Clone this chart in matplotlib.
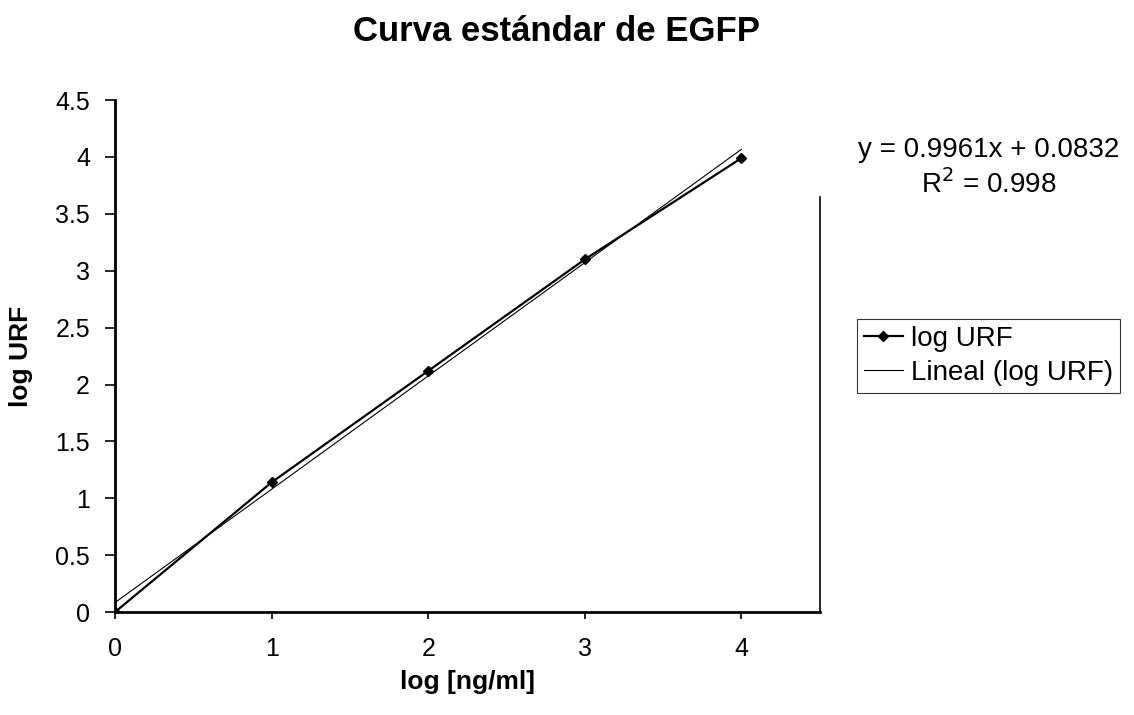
import matplotlib
matplotlib.use("Agg")
import matplotlib.pyplot as plt
import numpy as np

plt.rcParams['font.family'] = ['Liberation Sans', 'DejaVu Sans']

# datos de la curva estándar
log_conc = [0, 1, 2, 3, 4]
log_urf = [0.0, 1.14, 2.12, 3.10, 3.99]
slope = 0.9961
intercept = 0.0832
r2 = 0.998

fig = plt.figure(figsize=(11.34, 7.15), dpi=100)
ax = fig.add_axes([0.1014, 0.144, 0.6215, 0.716])

ax.plot(log_conc, log_urf, color='black', lw=1.6, marker='D', ms=5,
        label='log URF')
xf = np.array([log_conc[0], log_conc[-1]])
ax.plot(xf, slope * xf + intercept, color='black', lw=0.8,
        label='Lineal (log URF)')

ax.set_xlim(0, 4.5)
ax.set_ylim(0, 4.5)
ax.set_xticks([0, 1, 2, 3, 4])
ax.set_yticks(np.arange(0, 4.51, 0.5))
ax.set_yticklabels(['0', '0.5', '1', '1.5', '2', '2.5', '3', '3.5', '4', '4.5'])
ax.tick_params(axis='both', labelsize=18, width=1.2, direction='out')
ax.tick_params(axis='x', length=5, pad=13)
ax.tick_params(axis='y', length=7, pad=11)

ax.spines['top'].set_visible(False)
ax.spines['right'].set_bounds(0, 3.65)
for s in ['left', 'bottom']:
    ax.spines[s].set_linewidth(2)
ax.spines['right'].set_linewidth(1.2)

ax.set_xlabel('log [ng/ml]', fontsize=19, fontweight='bold')
ax.xaxis.set_label_coords(0.5, -0.113)
ax.set_ylabel('log URF', fontsize=19, fontweight='bold')
ax.yaxis.set_label_coords(-0.117, 0.5)
fig.text(0.491, 0.956, 'Curva estándar de EGFP', ha='center', va='center',
         fontsize=25, fontweight='bold')

fig.text(0.872, 0.790, 'y = 0.9961x + 0.0832', ha='center', va='center', fontsize=20)
fig.text(0.872, 0.743, r'R$^2$ = 0.998', ha='center', va='center', fontsize=20)

leg = ax.legend(loc='upper left', bbox_to_anchor=(0.7557, 0.554),
                bbox_transform=fig.transFigure, fontsize=20, frameon=True,
                fancybox=False, edgecolor='black', handlelength=1.4,
                handletextpad=0.3, borderpad=0.25, labelspacing=0.3,
                borderaxespad=0)
leg.get_frame().set_linewidth(0.8)

fig.savefig('out.png', dpi=100)
